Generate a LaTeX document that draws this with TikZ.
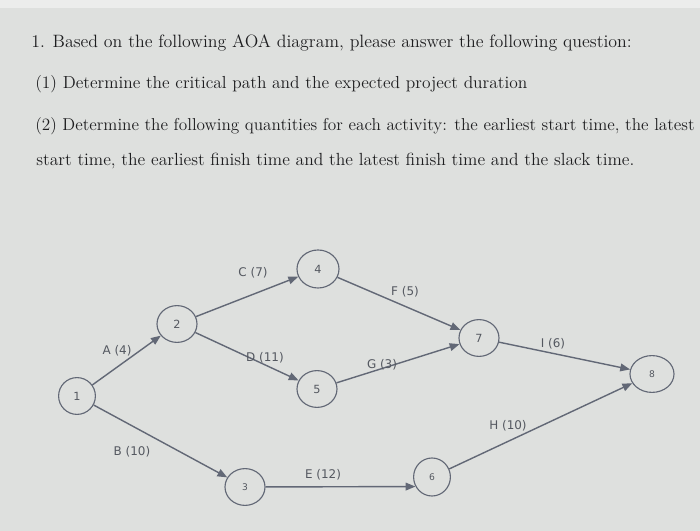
\documentclass[tikz,border=0pt]{standalone}
\usepackage{fontspec}
\newfontfamily\labelfont{DejaVu Sans}
\usetikzlibrary{arrows.meta,
                positioning,
                shapes.geometric
            }
\definecolor{bgcol}{RGB}{222,224,222}
\definecolor{topcol}{RGB}{236,237,236}
\definecolor{inkcol}{RGB}{30,30,32}
\definecolor{linecol}{RGB}{98,104,118}
\definecolor{lblcol}{RGB}{84,88,96}

\begin{document}
\begin{tikzpicture}[x=0.025cm, y=-0.025cm,
        event/.style={draw=linecol, line width=0.8pt, ellipse, minimum width=1cm, minimum height=0.92cm, inner sep=0pt, text=lblcol, font=\labelfont\fontsize{8}{8}\selectfont},
        smallevent/.style={event, font=\labelfont\fontsize{6.5}{7}\selectfont},
        act/.style={draw=linecol, line width=1pt, -{Triangle[length=7pt, width=5.5pt]}},
        lbl/.style={text=lblcol, inner sep=0pt, font=\labelfont\fontsize{8.5}{9}\selectfont},
        qline/.style={anchor=base west, inner sep=0pt, text=inkcol, font=\fontsize{#1}{14}\selectfont}]
            \fill[bgcol] (0, 0) rectangle (700, 531);
            \fill[topcol] (0, 0) rectangle (700, 8);
            \useasboundingbox (0, 0) rectangle (700, 531);

            % question text
            \node[qline=12.7] (q1) at (31, 48) {1. Based on the following AOA diagram, please answer the following question:};
            \node[qline=12.4] (q2) at (35, 89) {(1) Determine the critical path and the expected project duration};
            \node[qline=12.25] (q3) at (35, 131) {(2) Determine the following quantities for each activity: the earliest start time, the latest};
            \node[qline=12.5] (q4) at (36, 166) {start time, the earliest finish time and the latest finish time and the slack time.};

            % events
            \node[event, minimum width=0.92cm] (n1) at (77, 396) {1};
            \node[event] (n2) at (177, 324) {2};
            \node[smallevent] (n3) at (245, 487) {3};
            \node[event, minimum width=1.05cm, minimum height=0.95cm] (n4) at (318, 269) {4};
            \node[event] (n5) at (317, 389) {5};
            \node[smallevent, minimum width=0.92cm, minimum height=0.95cm] (n6) at (432, 477) {6};
            \node[event] (n7) at (479, 338) {7};
            \node[smallevent, minimum width=1.1cm] (n8) at (652, 374) {8};

            % activities
            \draw[act] (n1) -- (n2);
            \draw[act] (n1) -- (n3);
            \draw[act] (n2) -- (n4);
            \draw[act] (n2) -- (n5);
            \draw[act] (n3) -- (n6.210);
            \draw[act] (n4) -- (n7);
            \draw[act] (n5) -- (n7);
            \draw[act] (n7) -- (n8);
            \draw[act] (n6) -- (n8);

            \node[lbl] (la) at (117, 351) {A (4)};
            \node[lbl] (lb) at (132, 452) {B (10)};
            \node[lbl] (lc) at (253, 273) {C (7)};
            \node[lbl] (ld) at (265, 358) {D (11)};
            \node[lbl] (le) at (323, 475) {E (12)};
            \node[lbl] (lf) at (405, 292) {F (5)};
            \node[lbl] (lg) at (382, 365) {G (3)};
            \node[lbl] (lh) at (508, 426) {H (10)};
            \node[lbl] (li) at (553, 344) {I (6)};
        \end{tikzpicture}
\end{document}
